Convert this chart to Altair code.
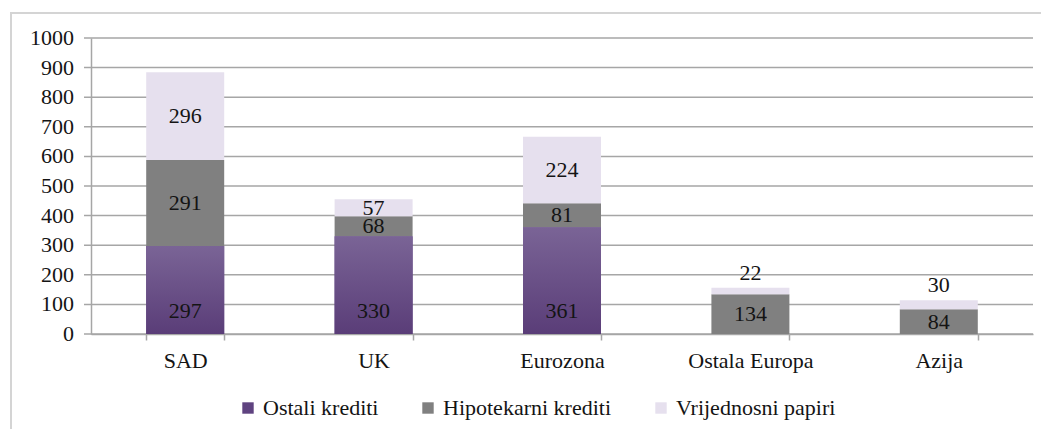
import altair as alt
import pandas as pd

categories = ["SAD", "UK", "Eurozona", "Ostala Europa", "Azija"]
series = ["Ostali krediti", "Hipotekarni krediti", "Vrijednosni papiri"]
ostali = [297, 330, 361, 0, 0]
hipotekarni = [291, 68, 81, 134, 84]
vrijednosni = [296, 57, 224, 22, 30]
colors = ["#5f4380", "#808080", "#e6e0ee"]
y_ticks = [0, 100, 200, 300, 400, 500, 600, 700, 800, 900, 1000]

rows = []
for i, c in enumerate(categories):
    for k, (s, vals) in enumerate(zip(series, [ostali, hipotekarni, vrijednosni])):
        if vals[i] > 0:
            rows.append({"cat": c, "series": s, "order": k, "value": vals[i]})
df = pd.DataFrame(rows)
ticks_df = pd.DataFrame({"t": y_ticks})

FONT = "Liberation Serif"
TXT = "#141414"
GRID = "#a6a6a6"

x_enc = alt.X("cat:N", sort=categories, title=None,
              scale=alt.Scale(paddingInner=0.586, paddingOuter=0.293),
              axis=alt.Axis(labelAngle=0, tickBand="extent", tickSize=6, labelPadding=10,
                            domainColor=GRID, tickColor=GRID, domainWidth=1.5, tickWidth=1.5))
y_scale = alt.Scale(domain=[0, 1000], nice=False)
y_axis = alt.Axis(title=None, grid=False, labels=False, ticks=False,
                  domainColor=GRID, domainWidth=1.5)


def yenc(field):
    return alt.Y(field, type="quantitative", scale=y_scale, axis=y_axis)


base = alt.Chart(df).transform_stack(
    stack="value", groupby=["cat"], as_=["v0", "v1"], sort=[alt.SortField("order")]
).transform_calculate(mid="(datum.v0 + datum.v1) / 2")

frame = alt.Chart(pd.DataFrame({"a": [0]})).mark_rect(
    fillOpacity=0, stroke="#d4d4d4", strokeWidth=2
).encode(x=alt.value(-80), x2=alt.value(980), y=alt.value(-25), y2=alt.value(430))

grid = alt.Chart(ticks_df).mark_rule(color=GRID, strokeWidth=1.5).encode(
    x=alt.value(-7), x2=alt.value(942), y=yenc("t")
)
ylabels = alt.Chart(ticks_df).mark_text(
    align="right", baseline="middle", font=FONT, fontSize=22, color=TXT
).encode(x=alt.value(-17), y=yenc("t"), text=alt.Text("t:Q", format="d"))

bars = base.mark_bar().encode(
    x=x_enc,
    y=yenc("v1"),
    y2="v0:Q",
    color=alt.Color("series:N", sort=series,
                    scale=alt.Scale(domain=series, range=colors),
                    legend=alt.Legend(title=None, orient="none", direction="horizontal",
                                      legendX=146, legendY=359, symbolType="square",
                                      symbolSize=130, symbolStrokeWidth=0, labelOffset=4,
                                      columnPadding=38, labelFont=FONT, labelFontSize=22,
                                      labelLimit=400, labelColor=TXT)),
)

grad = alt.LinearGradient(
    gradient="linear",
    stops=[alt.GradientStop(color="#7a6496", offset=0), alt.GradientStop(color="#5a3d78", offset=1)],
    x1=0, x2=0, y1=0, y2=1,
)
purple = base.transform_filter(alt.datum.series == series[0]).mark_bar(color=grad).encode(
    x=x_enc, y=yenc("v1"), y2="v0:Q"
)

txt_kw = dict(font=FONT, fontSize=22, color=TXT)
lab_mid = base.transform_filter(
    (alt.datum.series != series[0]) & ((alt.datum.series != series[2]) | (alt.datum.value >= 40))
).mark_text(baseline="middle", **txt_kw).encode(
    x=x_enc, y=yenc("mid"), text="value:Q"
)
lab_base = base.transform_filter(alt.datum.series == series[0]).mark_text(
    baseline="middle", dy=-23, **txt_kw
).encode(x=x_enc, y=yenc("v0"), text="value:Q")
lab_top = base.transform_filter(
    (alt.datum.series == series[2]) & (alt.datum.value < 40)
).mark_text(baseline="bottom", dy=-3, **txt_kw).encode(
    x=x_enc, y=yenc("v1"), text="value:Q"
)

chart = alt.layer(frame, grid, ylabels, bars, purple, lab_mid, lab_base, lab_top).properties(
    width=942, height=296,
    autosize=alt.AutoSizeParams(type="none"),
    padding={"left": 83, "top": 30, "right": 8, "bottom": 95},
).configure_axis(
    labelFont=FONT, labelFontSize=22, labelColor=TXT
).configure_view(stroke=None)

chart.save("out.html", embed_options={"renderer": "svg", "actions": False})
